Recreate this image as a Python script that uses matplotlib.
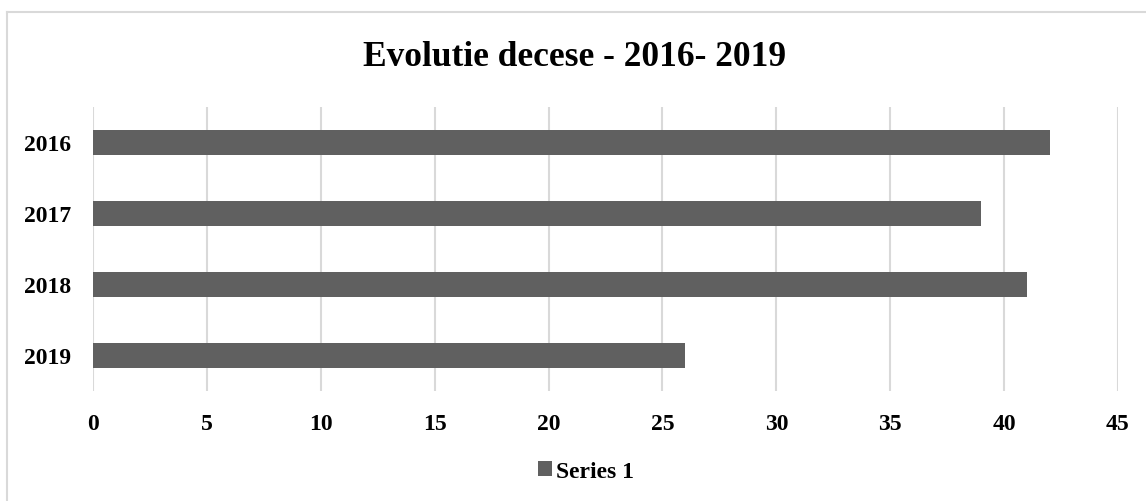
import numpy as np
import matplotlib.pyplot as plt
from matplotlib.lines import Line2D

# date
years = ['2016', '2017', '2018', '2019']
decese = [42, 39, 41, 26]
xticks = [0, 5, 10, 15, 20, 25, 30, 35, 40, 45]

plt.rcParams['font.family'] = ['Liberation Serif', 'DejaVu Serif']

fig = plt.figure(figsize=(11.46, 5.02), dpi=100)
ax = fig.add_axes([93/1146, 110/502, (1118-93)/1146, (392-108)/502])

y = np.arange(len(years))
ax.barh(y, decese, height=0.35, color='#606060', zorder=3, label='Series 1')
ax.set_ylim(len(years) - 0.5, -0.5)
ax.set_xlim(0, 45)
ax.set_yticks(y)
ax.set_yticklabels(years, fontsize=17, fontweight='bold')
ax.set_xticks(xticks)
ax.set_xticklabels([str(t) for t in xticks], fontsize=17, fontweight='bold')
ax.tick_params(axis='both', length=0)
ax.tick_params(axis='x', pad=15.5)
ax.tick_params(axis='y', pad=15.7)
ax.grid(axis='x', color='#d9d9d9', linewidth=1.5, zorder=0)
for s in ax.spines.values():
    s.set_visible(False)

fig.text(0.5 + 2/1146, 1 - 58/502, 'Evolutie decese - 2016- 2019', ha='center', va='center',
         fontsize=25.5, fontweight='bold')

leg = fig.legend(loc='center', bbox_to_anchor=(0.5 + 13/1146, 1 - 472/502), frameon=False,
                 prop={'size': 17, 'weight': 'bold'}, handlelength=0.6, handleheight=0.6,
                 handletextpad=0.2)

# chenar
fig.add_artist(Line2D([7/1146, 7/1146], [0, 1 - 13/502], color='#d9d9d9', lw=1.5,
                      transform=fig.transFigure))
fig.add_artist(Line2D([7/1146, 1], [1 - 13/502, 1 - 13/502], color='#d9d9d9', lw=1.5,
                      transform=fig.transFigure))

fig.savefig('out.png', dpi=100)
